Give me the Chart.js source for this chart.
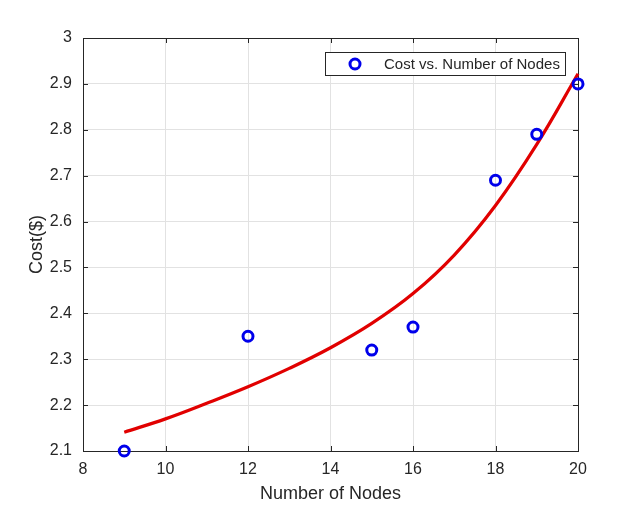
<!DOCTYPE html>
<html>
<head>
<meta charset="utf-8">
<script src="https://cdn.jsdelivr.net/npm/chart.js@4.4.1/dist/chart.umd.min.js"></script>
<style>
  html, body { margin: 0; padding: 0; background: #fff; }
  #wrap { width: 639px; height: 508px; position: relative; }
</style>
</head>
<body>
<div id="wrap"><canvas id="c" width="639" height="508"></canvas></div>
<script>
// ---- data ----
const nodes = [9, 12, 15, 16, 18, 19, 20];
const cost = [2.10, 2.35, 2.32, 2.37, 2.69, 2.79, 2.90];
const fitNodes = [9, 10, 11, 12, 13, 14, 15, 16, 17, 18, 19, 20];
const fitCost = [2.141, 2.170, 2.204, 2.240, 2.280, 2.325, 2.378, 2.443, 2.527, 2.635, 2.768, 2.922];
const seriesLabel = 'Cost vs. Number of Nodes';
const xTitle = 'Number of Nodes';
const yTitle = 'Cost($)';

const FONT = '"Liberation Sans", Arial, Helvetica, sans-serif';
const TXT = '#262626';

const boxPlugin = {
  id: 'boxPlugin',
  beforeDatasetsDraw(chart) {
    const {ctx, chartArea: a, scales} = chart;
    ctx.save();
    ctx.strokeStyle = TXT;
    ctx.lineWidth = 1;
    const tl = 5;
    ctx.beginPath();
    scales.x.ticks.forEach(t => {
      const px = Math.round(scales.x.getPixelForValue(t.value)) + 0.5;
      ctx.moveTo(px, a.bottom); ctx.lineTo(px, a.bottom - tl);
      ctx.moveTo(px, a.top); ctx.lineTo(px, a.top + tl);
    });
    scales.y.ticks.forEach(t => {
      const py = Math.round(scales.y.getPixelForValue(t.value)) + 0.5;
      ctx.moveTo(a.left, py); ctx.lineTo(a.left + tl, py);
      ctx.moveTo(a.right, py); ctx.lineTo(a.right - tl, py);
    });
    ctx.stroke();
    ctx.strokeRect(Math.round(a.left) + 0.5, Math.round(a.top) + 0.5,
                   Math.round(a.right - a.left), Math.round(a.bottom - a.top));
    ctx.restore();
  }
};

const legendPlugin = {
  id: 'legendBox',
  afterDraw(chart) {
    const {ctx, chartArea: a} = chart;
    const ds = chart.data.datasets[0];
    const w = 240, h = 23;
    const x = a.right - 13 - w, y = a.top + 14;
    ctx.save();
    ctx.fillStyle = '#fff';
    ctx.fillRect(x, y, w, h);
    ctx.strokeStyle = TXT;
    ctx.lineWidth = 1;
    ctx.strokeRect(Math.round(x) + 0.5, Math.round(y) + 0.5, w, h);
    ctx.beginPath();
    ctx.arc(x + 30, y + h / 2 + 0.5, ds.pointRadius, 0, Math.PI * 2);
    ctx.strokeStyle = ds.borderColor;
    ctx.lineWidth = ds.borderWidth;
    ctx.stroke();
    ctx.fillStyle = TXT;
    ctx.font = '15px ' + FONT;
    ctx.textBaseline = 'middle';
    ctx.fillText(ds.label, x + 59, y + h / 2 + 1);
    ctx.restore();
  }
};

new Chart(document.getElementById('c'), {
  type: 'scatter',
  data: {
    datasets: [
      {
        label: seriesLabel,
        data: nodes.map((n, i) => ({x: n, y: cost[i]})),
        borderColor: 'rgb(0,0,235)',
        backgroundColor: 'rgba(0,0,0,0)',
        pointRadius: 5,
        pointHoverRadius: 5,
        borderWidth: 3,
        showLine: false,
        clip: false,
        order: 0
      },
      {
        label: 'fit',
        data: fitNodes.map((n, i) => ({x: n, y: fitCost[i]})),
        borderColor: 'rgb(225,0,0)',
        backgroundColor: 'rgb(225,0,0)',
        borderWidth: 3.2,
        pointRadius: 0,
        showLine: true,
        tension: 0.4,
        clip: false,
        order: 1
      }
    ]
  },
  options: {
    responsive: false,
    animation: false,
    devicePixelRatio: 1,
    layout: { padding: { left: 0, right: 61, top: 38, bottom: 0 } },
    plugins: {
      legend: { display: false },
      tooltip: { enabled: false }
    },
    scales: {
      x: {
        type: 'linear',
        min: 8, max: 20,
        afterFit(s) { s.height = 57; },
        ticks: {
          stepSize: 2,
          color: TXT,
          font: { family: FONT, size: 16 },
          padding: 9,
          maxRotation: 0
        },
        grid: { color: '#e2e2e2', drawTicks: false, lineWidth: 1 },
        border: { color: TXT, width: 1 },
        title: {
          display: true, text: xTitle, color: TXT,
          font: { family: FONT, size: 18 },
          padding: { top: 0, bottom: 3 }
        }
      },
      y: {
        type: 'linear',
        min: 2.1, max: 3.0,
        afterFit(s) { s.width = 83; },
        ticks: {
          stepSize: 0.1,
          color: TXT,
          font: { family: FONT, size: 16 },
          padding: 11,
          callback: v => String(Number(v.toFixed(1)))
        },
        grid: { color: '#e2e2e2', drawTicks: false, lineWidth: 1 },
        border: { color: TXT, width: 1 },
        title: {
          display: true, text: yTitle, color: TXT,
          font: { family: FONT, size: 18 },
          padding: { top: 26, bottom: 0 }
        }
      }
    }
  },
  plugins: [boxPlugin, legendPlugin]
});
</script>
</body>
</html>
